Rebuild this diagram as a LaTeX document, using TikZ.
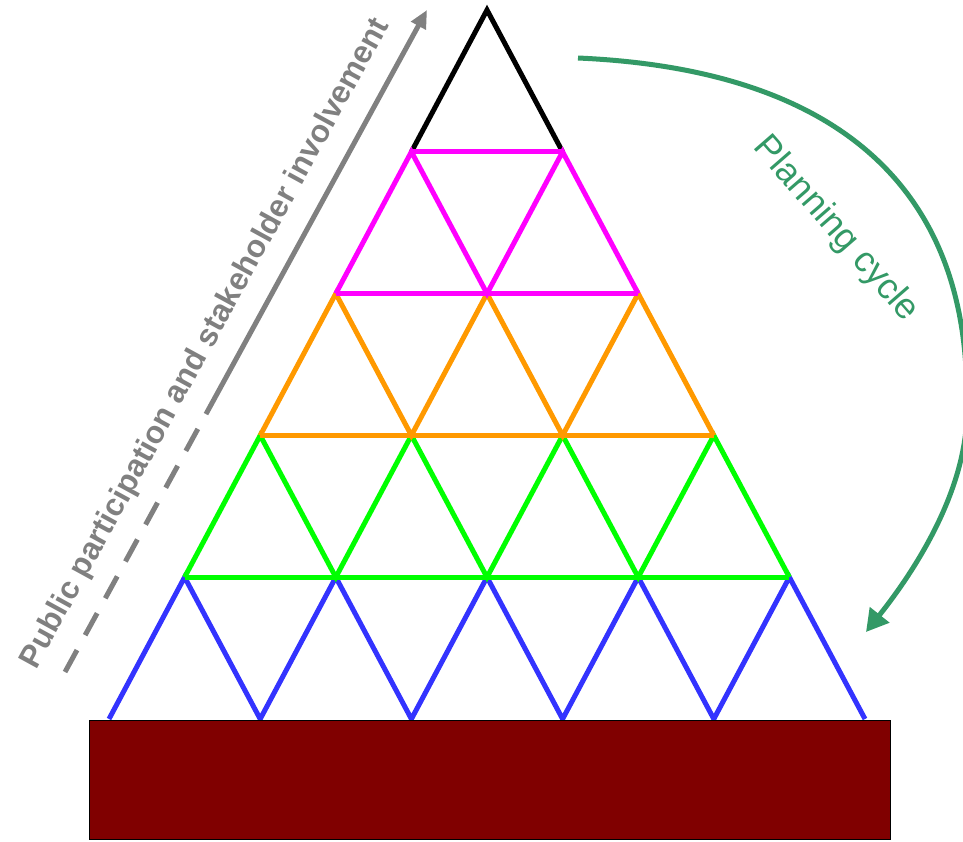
\documentclass[tikz,border=0pt]{standalone}
\usepackage{fontspec}
\setmainfont{Liberation Sans}
\usetikzlibrary{arrows.meta}
\definecolor{mag}{RGB}{255,0,255}
\definecolor{org}{RGB}{255,153,0}
\definecolor{grn}{RGB}{0,255,0}
\definecolor{blu}{RGB}{51,51,255}
\definecolor{brick}{RGB}{128,0,0}
\definecolor{sea}{RGB}{51,153,102}
\definecolor{gry}{RGB}{128,128,128}
\begin{document}
\begin{tikzpicture}[x=1pt,y=-1pt,
  edge/.style={line width=5pt, line join=miter},
  grayarrow/.style={gry, line width=5pt},
  cyclearrow/.style={sea, line width=5pt, -{Triangle[length=22pt,width=24pt]}},
  graylabel/.style={font=\bfseries\fontsize{31.5}{31.5}\selectfont, text=gry, anchor=base, inner sep=0pt},
  cyclelabel/.style={font=\fontsize{36}{36}\selectfont, text=sea, anchor=base, inner sep=0pt}]
\useasboundingbox (0,0) rectangle (963,841);
\foreach \r in {0,...,5} {
  \foreach \k in {0,...,\r} {
    \pgfmathsetmacro\xx{487+(\k-\r/2)*151.2}
    \pgfmathsetmacro\yy{10+\r*141.8}
    \coordinate (p\r\k) at (\xx,\yy);
  }
}
% blue band
\draw[edge, blu] (p50) -- (p40) -- (p51) -- (p41) -- (p52) -- (p42) -- (p53) -- (p43) -- (p54) -- (p44) -- (p55);
% green band
\draw[edge, grn] (p40) -- (p30) -- (p41) -- (p31) -- (p42) -- (p32) -- (p43) -- (p33) -- (p44);
\draw[edge, grn] (p40) -- (p44);
% orange band
\draw[edge, org] (p30) -- (p20) -- (p31) -- (p21) -- (p32) -- (p22) -- (p33);
\draw[edge, org] (p30) -- (p33);
% black top
\draw[edge, black] (p10) -- (p00) -- (p11);
% magenta band
\draw[edge, mag] (p20) -- (p10) -- (p21) -- (p11) -- (p22);
\draw[edge, mag] (p10) -- (p11);
\draw[edge, mag] (p20) -- (p22);
% base block
\draw[fill=brick, draw=black, line width=1.5pt] (89.5,720.5) rectangle (890.5,839.5);
% gray arrow
\coordinate (gs) at (65,672);
\coordinate (gm) at (206,414);
\coordinate (ge) at (427,10);
\draw[grayarrow, dash pattern=on 25pt off 17pt] (gs) -- (gm);
\draw[grayarrow, -{Triangle[length=18pt,width=16pt]}] (gm) -- (ge);
\node[graylabel, rotate=61.3] (pp) at (212.9,347.6) {Public participation and stakeholder involvement};
% planning cycle arrow
\coordinate (cs) at (578,58);
\coordinate (c2) at (967,410);
\coordinate (ce) at (866,632);
\draw[cyclearrow] (cs) .. controls (965,75) and (967,325) .. (c2)
  .. controls (967,490) and (915.6,569.6) .. (ce);
\node[cyclelabel, rotate=-49] (pc) at (829,235.5) {Planning cycle};
\end{tikzpicture}
\end{document}
